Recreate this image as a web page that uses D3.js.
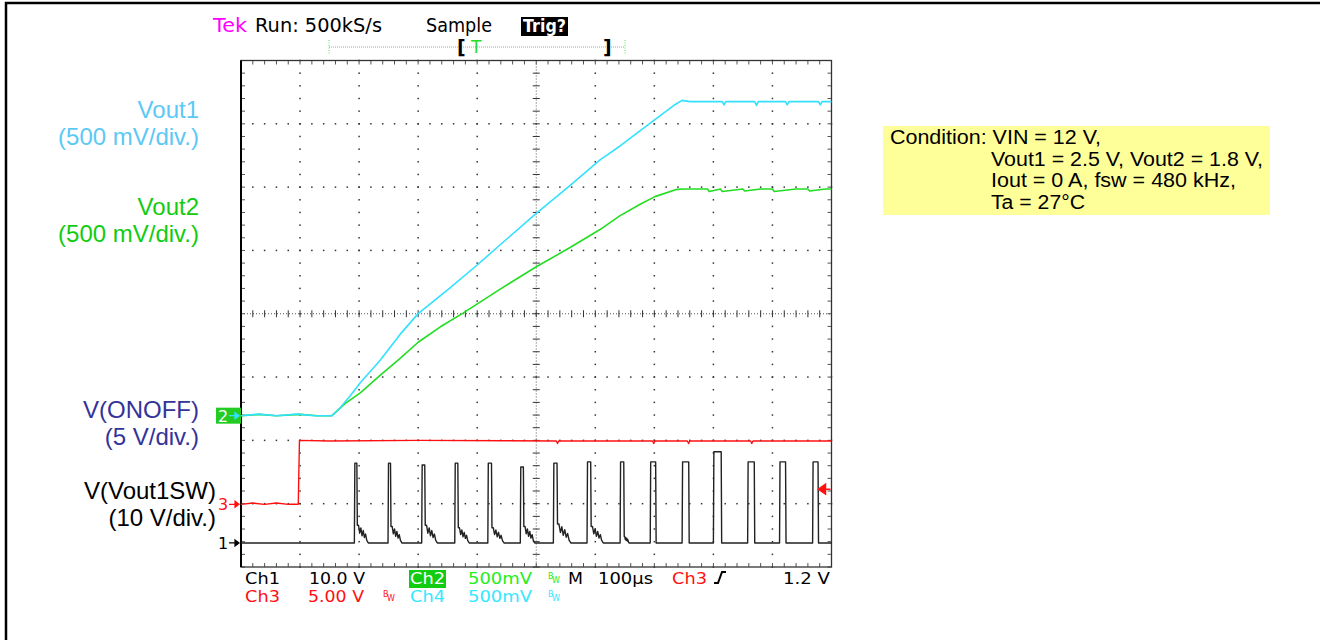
<!DOCTYPE html>
<html>
<head>
<meta charset="utf-8">
<script src="https://cdn.jsdelivr.net/npm/d3@7"></script>
<style>
body { margin: 0; background: #fff; }
svg { display: block; }
.scope { font-family: "DejaVu Sans", sans-serif; }
.label { font-family: "Liberation Sans", Arial, sans-serif; }
</style>
</head>
<body>
<script>
(function () {

//trace data: time in microseconds, value in volts
    var vout1Time = [0, 30, 60, 95, 125, 154, 168, 185, 202, 236, 269, 300, 354, 400, 439, 498, 558, 608, 642, 693, 736, 747, 760, 815, 818, 821, 870, 873, 876, 922, 925, 928, 978, 981, 984, 1000];
    var vout1Volt = [0, 0.012, 0, 0.012, 0, 0, 0.063, 0.158, 0.26, 0.44, 0.64, 0.806, 1.01, 1.19, 1.35, 1.59, 1.82, 2.02, 2.13, 2.31, 2.46, 2.49, 2.48, 2.48, 2.455, 2.48, 2.48, 2.45, 2.48, 2.48, 2.455, 2.48, 2.48, 2.455, 2.48, 2.48];

    var vout2Time = [0, 30, 60, 100, 130, 154, 176, 202, 236, 269, 300, 337, 376, 439, 498, 558, 608, 642, 676, 701, 736, 747, 770, 790, 793, 812, 815, 850, 853, 880, 900, 903, 940, 960, 963, 990, 1000];
    var vout2Volt = [0, 0.01, 0, 0.01, 0, 0, 0.095, 0.18, 0.32, 0.45, 0.58, 0.70, 0.81, 1.00, 1.17, 1.33, 1.47, 1.58, 1.67, 1.73, 1.785, 1.79, 1.79, 1.79, 1.77, 1.79, 1.77, 1.79, 1.775, 1.79, 1.79, 1.77, 1.79, 1.79, 1.775, 1.79, 1.79];

    var onoffTime = [0, 20, 40, 60, 80, 97, 98, 99, 150, 300, 534, 536, 538, 697, 699, 701, 756, 758, 760, 863, 865, 867, 1000];
    var onoffVolt = [0, 0.1, 0, 0.1, 0, 0, 2.6, 5.05, 5.0, 5.05, 5.0, 4.8, 5.0, 5.0, 4.8, 5.0, 5.0, 4.8, 5.0, 5.0, 4.8, 5.0, 5.0];

    //switch node pulses: start time, width (us), peak (V), ringing after the pulse
    var swStart = [192, 249, 306, 362, 418, 473, 529, 586, 642, 693, 747, 800, 858, 912, 968];
    var swWidth = [5, 5, 6, 6, 7, 6, 7, 7, 7, 10, 12, 14, 12, 11, 10];
    var swPeak = [12.6, 12.6, 12.3, 12.6, 12.6, 12.0, 12.6, 12.8, 12.8, 12.8, 12.8, 14.4, 12.8, 12.8, 12.8];
    var swRingDur = [18, 18, 20, 18, 20, 18, 22, 20, 8, 0, 0, 0, 0, 0, 0];
    var swRingLevel = [2.8, 2.6, 2.8, 2.4, 2.4, 2.6, 3.0, 2.6, 1.0, 0, 0, 0, 0, 0, 0];
    var ringShape = [1, 0.55, 0.85, 0.4, 0.7, 0.3, 0.5, 0.15];

    //channel settings: volts per division and ground position in divisions from centre
    var channels = {
        ch1: {vdiv: 10, pos: -3.62},
        ch2: {vdiv: 0.5, pos: -1.61},
        ch3: {vdiv: 5, pos: -3.01},
        ch4: {vdiv: 0.5, pos: -1.61}
    };
    var trigLevel = 1.2;

    var width = 1320, height = 640;
    var plotLeft = 241, plotRight = 831.5, plotTop = 60.5, plotBottom = 567;

    var x = d3.scaleLinear().domain([0, 1000]).range([plotLeft, plotRight]);
    var div = d3.scaleLinear().domain([-4, 4]).range([plotBottom, plotTop]);

    function yCh(v, ch) {
        return div(v / channels[ch].vdiv + channels[ch].pos);
    }

    var svg = d3.select("body").append("svg")
        .attr("width", width)
        .attr("height", height);

    //outer frame of the figure
    svg.append("rect")
        .attr("x", 6).attr("y", 3)
        .attr("width", 1400).attr("height", 700)
        .attr("fill", "none").attr("stroke", "#000").attr("stroke-width", 2.5);

    drawGraticule();
    drawTraces();
    drawScopeText();
    drawLabels();

//graticule: dotted division lines, centre crosshair and edge ticks
    function drawGraticule() {
        var g = svg.append("g");
        var subT = d3.range(0, 1000.01, 20);
        var subD = d3.range(-4, 4.001, 0.2);
        var dots = [];
        [100, 200, 300, 400, 600, 700, 800, 900].forEach(function (t) {
            subD.forEach(function (d) { dots.push([x(t), div(d)]); });
        });
        [-3, -2, -1, 1, 2, 3].forEach(function (d) {
            subT.forEach(function (t) { dots.push([x(t), div(d)]); });
        });
        g.selectAll(".dot").data(dots).enter().append("rect")
            .attr("class", "dot")
            .attr("x", function (d) { return d[0] - 0.75; })
            .attr("y", function (d) { return d[1] - 0.75; })
            .attr("width", 1.5).attr("height", 1.5)
            .attr("fill", "#333");

        //centre lines
        g.append("line")
            .attr("x1", x(500)).attr("x2", x(500))
            .attr("y1", plotTop).attr("y2", plotBottom)
            .attr("stroke", "#555").attr("stroke-dasharray", "1,2");
        g.append("line")
            .attr("x1", plotLeft).attr("x2", plotRight)
            .attr("y1", div(0)).attr("y2", div(0))
            .attr("stroke", "#555").attr("stroke-dasharray", "1,2");
        g.selectAll(".vtick").data(subD).enter().append("line")
            .attr("x1", x(500) - 3.5).attr("x2", x(500) + 3.5)
            .attr("y1", function (d) { return div(d); })
            .attr("y2", function (d) { return div(d); })
            .attr("stroke", "#333");
        g.selectAll(".htick").data(subT).enter().append("line")
            .attr("y1", div(0) - 3.5).attr("y2", div(0) + 3.5)
            .attr("x1", function (d) { return x(d); })
            .attr("x2", function (d) { return x(d); })
            .attr("stroke", "#333");

        //edge ticks
        g.selectAll(".ltick").data(subD).enter().append("line")
            .attr("x1", plotLeft).attr("x2", plotLeft + 4)
            .attr("y1", function (d) { return div(d); })
            .attr("y2", function (d) { return div(d); })
            .attr("stroke", "#555");
        g.selectAll(".rtick").data(subD).enter().append("line")
            .attr("x1", plotRight - 4).attr("x2", plotRight)
            .attr("y1", function (d) { return div(d); })
            .attr("y2", function (d) { return div(d); })
            .attr("stroke", "#555");
        g.selectAll(".ttick").data(subT).enter().append("line")
            .attr("y1", plotTop).attr("y2", plotTop + 4)
            .attr("x1", function (d) { return x(d); })
            .attr("x2", function (d) { return x(d); })
            .attr("stroke", "#555");
        g.selectAll(".btick").data(subT).enter().append("line")
            .attr("y1", plotBottom - 4).attr("y2", plotBottom)
            .attr("x1", function (d) { return x(d); })
            .attr("x2", function (d) { return x(d); })
            .attr("stroke", "#555");

        g.append("rect")
            .attr("x", plotLeft).attr("y", plotTop)
            .attr("width", plotRight - plotLeft).attr("height", plotBottom - plotTop)
            .attr("fill", "none").attr("stroke", "#333").attr("stroke-width", 1.3);
        g.append("line")
            .attr("x1", plotLeft).attr("x2", plotLeft)
            .attr("y1", plotTop).attr("y2", plotBottom)
            .attr("stroke", "#000").attr("stroke-width", 2);
    }

    function zip(ts, vs) {
        return ts.map(function (t, i) { return [t, vs[i]]; });
    }

    //switch node waveform assembled from the pulse table
    function buildSwitching() {
        var pts = [[0, 0]];
        swStart.forEach(function (t0, i) {
            var t1 = t0 + swWidth[i];
            pts.push([t0, 0], [t0 + 0.8, swPeak[i]], [t1 - 0.8, swPeak[i]], [t1, swRingLevel[i]]);
            if (swRingDur[i] > 0) {
                ringShape.forEach(function (f, k) {
                    pts.push([t1 + swRingDur[i] * (k + 1) / (ringShape.length + 1), swRingLevel[i] * f]);
                });
            }
            pts.push([t1 + swRingDur[i] + 0.5, 0]);
        });
        pts.push([1000, 0]);
        return pts;
    }

    function drawTraces() {
        var traces = [
            {ch: "ch1", data: buildSwitching(), color: "#222", w: 1.4},
            {ch: "ch3", data: zip(onoffTime, onoffVolt), color: "#ff1010", w: 1.4},
            {ch: "ch2", data: zip(vout2Time, vout2Volt), color: "#22dd22", w: 1.6},
            {ch: "ch4", data: zip(vout1Time, vout1Volt), color: "#33e0ff", w: 1.6}
        ];
        traces.forEach(function (tr) {
            var line = d3.line()
                .x(function (d) { return x(d[0]); })
                .y(function (d) { return yCh(d[1], tr.ch); });
            svg.append("path")
                .datum(tr.data)
                .attr("d", line)
                .attr("fill", "none")
                .attr("stroke", tr.color)
                .attr("stroke-width", tr.w)
                .attr("stroke-linejoin", "round");
        });

        //ground markers on the left edge
        svg.append("rect")
            .attr("x", 216).attr("y", yCh(0, "ch2") - 8)
            .attr("width", 25).attr("height", 16)
            .attr("fill", "#22cc22");
        marker(yCh(0, "ch2"), "2", "#fff", "#33e0ff");
        marker(yCh(0, "ch3"), "3", "#ff1010", "#ff1010");
        marker(yCh(0, "ch1"), "1", "#000", "#000");

        //trigger level arrow on the right edge
        var ty = yCh(trigLevel, "ch3");
        svg.append("path")
            .attr("d", "M" + (plotRight - 13) + "," + ty + "l7,-5v10z M" + (plotRight - 7) + "," + ty + "h6")
            .attr("fill", "#ff1010").attr("stroke", "#ff1010").attr("stroke-width", 1.5);
    }

    function marker(y, txt, color, arrowColor) {
        svg.append("text")
            .attr("class", "scope")
            .attr("x", 218).attr("y", y + 6)
            .attr("font-size", 16)
            .attr("fill", color)
            .text(txt);
        svg.append("path")
            .attr("d", "M229," + y + "h8 M239," + y + "l-4,-3v6z")
            .attr("stroke", arrowColor).attr("fill", arrowColor).attr("stroke-width", 1.2);
    }

    function stext(x0, y0, txt, color, len, size) {
        var t = svg.append("text")
            .attr("class", "scope")
            .attr("x", x0).attr("y", y0)
            .attr("font-size", size || 15.5)
            .attr("fill", color)
            .text(txt);
        if (len) t.attr("textLength", len).attr("lengthAdjust", "spacingAndGlyphs");
        return t;
    }

    function bw(x0, y0, color) {
        stext(x0, y0 - 5, "B", color, null, 8);
        stext(x0 + 4, y0 - 1, "W", color, null, 8);
    }

//scope status lines above and below the graticule
    function drawScopeText() {
        stext(213, 32, "Tek", "#ff00ff", 34, 19);
        stext(255, 32, "Run: 500kS/s", "#000", 127, 19);
        stext(426, 32, "Sample", "#000", 66, 19);
        svg.append("rect").attr("x", 521).attr("y", 17).attr("width", 47).attr("height", 19).attr("fill", "#000");
        stext(523, 32, "Trig?", "#fff", 43, 18).attr("font-weight", "bold");

        //record window bar
        svg.append("line").attr("x1", 329).attr("x2", 625).attr("y1", 47).attr("y2", 47)
            .attr("stroke", "#55dd55").attr("stroke-dasharray", "1,1");
        [329, 625].forEach(function (xx) {
            svg.append("line").attr("x1", xx).attr("x2", xx).attr("y1", 40).attr("y2", 55)
                .attr("stroke", "#55dd55").attr("stroke-dasharray", "1,1.5");
        });
        stext(457, 54, "[", "#000", null, 19).attr("font-weight", "bold");
        stext(603, 54, "]", "#000", null, 19).attr("font-weight", "bold");
        stext(471, 53, "T", "#22dd22", null, 17);

        //bottom status rows
        stext(245, 584, "Ch1", "#000", 35);
        stext(309, 584, "10.0 V", "#000", 56);
        svg.append("rect").attr("x", 409).attr("y", 570).attr("width", 37).attr("height", 18).attr("fill", "#11cc11");
        stext(410, 584, "Ch2", "#fff", 35);
        stext(468, 584, "500mV", "#22ee22", 64);
        bw(548, 584, "#22ee22");
        stext(568, 584, "M", "#000", 15);
        stext(598, 584, "100\u00b5s", "#000", 55);
        stext(672, 584, "Ch3", "#ff1010", 35);
        svg.append("path").attr("d", "M714,583h4l4,-11h4")
            .attr("fill", "none").attr("stroke", "#000").attr("stroke-width", 2);
        stext(783, 584, "1.2 V", "#000", 47);

        stext(245, 602, "Ch3", "#ff1010", 35);
        stext(308, 602, "5.00 V", "#ff1010", 56);
        bw(383, 602, "#ff1010");
        stext(410, 602, "Ch4", "#33e8ff", 35);
        stext(468, 602, "500mV", "#33e8ff", 64);
        bw(548, 602, "#33e8ff");
    }

//channel names on the left and the test condition box
    function drawLabels() {
        var labels = [
            {lines: ["Vout1", "(500 mV/div.)"], y: 118, right: 199, color: "#5cc8f5"},
            {lines: ["Vout2", "(500 mV/div.)"], y: 215, right: 199, color: "#11cc11"},
            {lines: ["V(ONOFF)", "(5 V/div.)"], y: 418, right: 199, color: "#333399"},
            {lines: ["V(Vout1SW)", "(10 V/div.)"], y: 499, right: 216, color: "#000"}
        ];
        labels.forEach(function (l) {
            l.lines.forEach(function (s, i) {
                svg.append("text")
                    .attr("class", "label")
                    .attr("x", l.right).attr("y", l.y + i * 27)
                    .attr("text-anchor", "end")
                    .attr("font-size", 24)
                    .attr("fill", l.color)
                    .text(s);
            });
        });

        svg.append("rect")
            .attr("x", 883).attr("y", 126)
            .attr("width", 387).attr("height", 89)
            .attr("fill", "#ffff99");
        //text, left edge, rendered width
        var cond = [
            ["Condition: VIN = 12 V,", 890, 211],
            ["Vout1 = 2.5 V, Vout2 = 1.8 V,", 991, 272],
            ["Iout = 0 A, fsw = 480 kHz,", 991, 245],
            ["Ta = 27\u00b0C", 991, 94]
        ];
        cond.forEach(function (c, i) {
            svg.append("text")
                .attr("class", "label")
                .attr("x", c[1]).attr("y", 144 + i * 21.6)
                .attr("font-size", 19.5)
                .attr("textLength", c[2])
                .attr("lengthAdjust", "spacingAndGlyphs")
                .attr("fill", "#000")
                .text(c[0]);
        });
    }

})();
</script>
</body>
</html>
